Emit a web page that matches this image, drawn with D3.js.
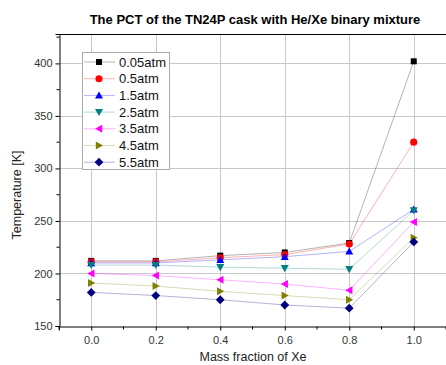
<!DOCTYPE html>
<html>
<head>
<meta charset="utf-8">
<script src="https://cdn.jsdelivr.net/npm/d3@7"></script>
<style>
  body { margin: 0; background: #fff; }
  svg { display: block; font-family: "Liberation Sans", Arial, sans-serif; }
</style>
</head>
<body>
<svg width="446" height="365"></svg>
<script>
const svg = d3.select("svg");

// data
const xFrac = [0.0, 0.2, 0.4, 0.6, 0.8, 1.0];
const seriesNames = ["0.05atm", "0.5atm", "1.5atm", "2.5atm", "3.5atm", "4.5atm", "5.5atm"];
const t005 = [212, 212, 217, 220, 229, 402];
const t05  = [211, 211, 215, 218, 228, 325];
const t15  = [210, 210, 213, 216, 221, 261];
const t25  = [208, 208, 206, 205, 204, 260];
const t35  = [200, 198, 194, 190, 184, 249];
const t45  = [191, 188, 183, 179, 175, 234];
const t55  = [182, 179, 175, 170, 167, 230];
const xTicks = [0.0, 0.2, 0.4, 0.6, 0.8, 1.0];
const yTicks = [150, 200, 250, 300, 350, 400];

const allSeries = [t005, t05, t15, t25, t35, t45, t55];
const colors = ["#000000", "#ff0000", "#0000ff", "#008080", "#ff00ff", "#808000", "#000080"];
const symbols = [d3.symbolSquare, d3.symbolCircle, "up", "down", "left", "right", "diamond"];

const plotLeft = 59, plotTop = 34, plotBottom = 326;
const x = d3.scaleLinear().domain([-0.1, 1.1]).range([plotLeft, plotLeft + 387]);
const y = d3.scaleLinear().domain([150, 428]).range([plotBottom, plotTop]);

// grid
const grid = svg.append("g").attr("stroke", "#c8c8c8").attr("stroke-width", 1);
grid.selectAll(".gx").data(xTicks).join("line")
  .attr("x1", d => Math.round(x(d)) + 0.5).attr("x2", d => Math.round(x(d)) + 0.5)
  .attr("y1", plotTop).attr("y2", plotBottom);
grid.selectAll(".gy").data(yTicks.slice(1)).join("line")
  .attr("y1", d => Math.round(y(d)) + 0.5).attr("y2", d => Math.round(y(d)) + 0.5)
  .attr("x1", plotLeft).attr("x2", 446);

// axes
const xAxis = d3.axisBottom(x).tickValues(xTicks).tickFormat(d3.format(".1f")).tickSize(4).tickPadding(6);
const gx = svg.append("g").attr("transform", `translate(0,${plotBottom + 0.5})`).call(xAxis);
gx.selectAll(".tick line").attr("stroke", "#000");
gx.append("g").selectAll("line").data(d3.range(-0.1, 1.15, 0.2)).join("line")
  .attr("x1", d => x(d)).attr("x2", d => x(d)).attr("y1", 0).attr("y2", 3).attr("stroke", "#000");

const yAxis = d3.axisLeft(y).tickValues(yTicks).tickSize(4).tickPadding(3);
const gy = svg.append("g").attr("transform", `translate(${plotLeft + 0.5},0)`).call(yAxis);
gy.append("g").selectAll("line").data([175, 225, 275, 325, 375, 425]).join("line")
  .attr("y1", d => y(d)).attr("y2", d => y(d)).attr("x1", 0).attr("x2", -3).attr("stroke", "#000");

[gx, gy].forEach(g => {
  g.select(".domain").attr("stroke", "#000");
  g.selectAll(".tick text").attr("font-size", 11).attr("fill", "#333")
    .attr("font-family", "Liberation Sans, Arial, sans-serif");
});

// top frame
svg.append("line").attr("x1", plotLeft).attr("x2", 446).attr("y1", plotTop + 0.5).attr("y2", plotTop + 0.5)
  .attr("stroke", "#000");

// markers
function marker(g, kind, size) {
  const s = size;
  if (kind === "up") return g.append("path").attr("d", `M0,${-s} L${s},${s * 0.8} L${-s},${s * 0.8}Z`);
  if (kind === "down") return g.append("path").attr("d", `M0,${s} L${s},${-s * 0.8} L${-s},${-s * 0.8}Z`);
  if (kind === "left") return g.append("path").attr("d", `M${-s},0 L${s * 0.8},${-s} L${s * 0.8},${s}Z`);
  if (kind === "right") return g.append("path").attr("d", `M${s},0 L${-s * 0.8},${-s} L${-s * 0.8},${s}Z`);
  if (kind === "diamond") return g.append("path").attr("d", `M0,${-s * 1.1} L${s * 1.1},0 L0,${s * 1.1} L${-s * 1.1},0Z`);
  return g.append("path").attr("d", d3.symbol().type(kind).size(kind === d3.symbolCircle ? 40 : 36)());
}

const line = d3.line().x((d, i) => x(xFrac[i])).y(d => y(d));
allSeries.forEach((vals, k) => {
  svg.append("path").attr("d", line(vals)).attr("fill", "none")
    .attr("stroke", colors[k]).attr("stroke-opacity", 0.3).attr("stroke-width", 1);
});
allSeries.forEach((vals, k) => {
  vals.forEach((v, i) => {
    const g = svg.append("g").attr("transform", `translate(${x(xFrac[i])},${y(v)})`);
    marker(g, symbols[k], 4).attr("fill", colors[k]);
  });
});

// legend
const lg = svg.append("g");
lg.append("rect").attr("x", 82.5).attr("y", 52.5).attr("width", 87).attr("height", 117)
  .attr("fill", "#fff").attr("stroke", "#aaa");
seriesNames.forEach((name, k) => {
  const yy = 62 + k * 16.7;
  lg.append("line").attr("x1", 84).attr("x2", 115).attr("y1", yy).attr("y2", yy)
    .attr("stroke", colors[k]).attr("stroke-opacity", 0.3);
  const g = lg.append("g").attr("transform", `translate(99,${yy})`);
  marker(g, symbols[k], 4).attr("fill", colors[k]);
  lg.append("text").attr("x", 119).attr("y", yy + 4.5).attr("font-size", 13).attr("fill", "#111").text(name);
});

// titles
svg.append("text").attr("x", 255).attr("y", 24).attr("text-anchor", "middle")
  .attr("font-size", 13).attr("font-weight", "bold").text("The PCT of the TN24P cask with He/Xe binary mixture");
svg.append("text").attr("transform", "translate(21,195) rotate(-90)").attr("text-anchor", "middle")
  .attr("font-size", 12.5).attr("fill", "#222").text("Temperature [K]");
svg.append("text").attr("x", 253).attr("y", 361).attr("text-anchor", "middle")
  .attr("font-size", 12.5).attr("fill", "#222").text("Mass fraction of Xe");
</script>
</body>
</html>
